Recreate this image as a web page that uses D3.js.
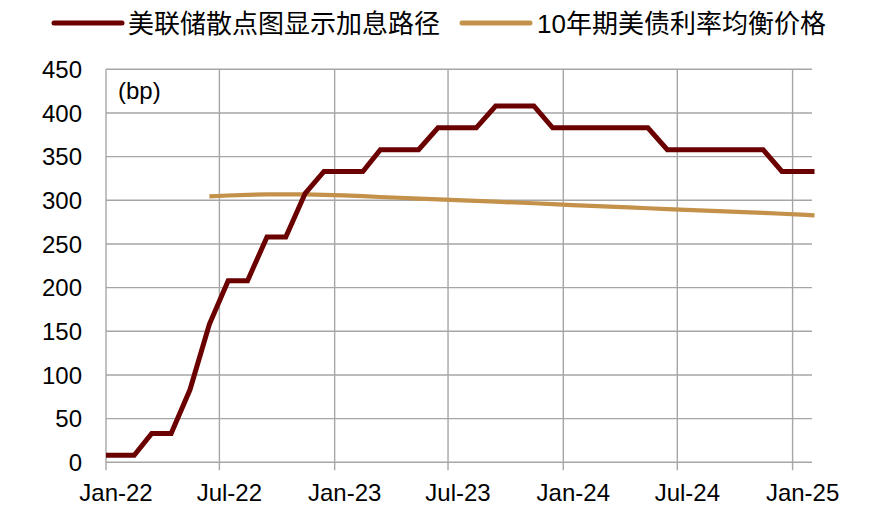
<!DOCTYPE html>
<html>
<head>
<meta charset="utf-8">
<script src="https://cdn.jsdelivr.net/npm/d3@7"></script>
<style>
  body { margin: 0; background: #fff; }
  svg { display: block; }
</style>
</head>
<body>
<svg id="chart" width="893" height="527"></svg>
<script>
// ---- data ----
const seriesNames = ["美联储散点图显示加息路径", "10年期美债利率均衡价格"];
const yTicks = [0, 50, 100, 150, 200, 250, 300, 350, 400, 450];
const xTickLabels = ["Jan-22", "Jul-22", "Jan-23", "Jul-23", "Jan-24", "Jul-24", "Jan-25"];
const unitLabel = "(bp)";

const fedDates = ["2022-01-01","2022-02-15","2022-03-15","2022-04-15","2022-05-15","2022-06-15",
  "2022-07-15","2022-08-15","2022-09-15","2022-10-15","2022-11-15","2022-12-15",
  "2023-01-15","2023-02-15","2023-03-15","2023-04-15","2023-05-15","2023-06-15",
  "2023-07-15","2023-08-15","2023-09-15","2023-10-15","2023-11-15","2023-12-15",
  "2024-01-15","2024-02-15","2024-03-15","2024-04-15","2024-05-15","2024-06-15",
  "2024-07-15","2024-08-15","2024-09-15","2024-10-15","2024-11-15","2024-12-15",
  "2025-01-15","2025-02-05"];
const fedValues = [8, 8, 33, 33, 83, 158,
  208, 208, 258, 258, 308, 333,
  333, 333, 358, 358, 358, 383,
  383, 383, 408, 408, 408, 383,
  383, 383, 383, 383, 383, 358,
  358, 358, 358, 358, 358, 333,
  333, 333];

const ustDates = ["2022-06-15","2022-07-15","2022-08-15","2022-09-15","2022-10-15","2022-11-15","2022-12-15",
  "2023-01-15","2023-02-15","2023-03-15","2023-04-15","2023-05-15","2023-06-15",
  "2023-07-15","2023-08-15","2023-09-15","2023-10-15","2023-11-15","2023-12-15",
  "2024-01-15","2024-02-15","2024-03-15","2024-04-15","2024-05-15","2024-06-15",
  "2024-07-15","2024-08-15","2024-09-15","2024-10-15","2024-11-15","2024-12-15",
  "2025-01-15","2025-02-05"];
const ustValues = [304.5, 305.5, 306.3, 306.7, 306.8, 306.7, 306.3,
  305.6, 304.7, 303.8, 302.9, 302.0, 301.1,
  300.2, 299.3, 298.4, 297.5, 296.6, 295.7,
  294.5, 293.6, 292.7, 291.8, 290.9, 290.0,
  289.1, 288.2, 287.3, 286.4, 285.5, 284.6,
  283.6, 282.8];

// ---- layout ----
const parse = d3.timeParse("%Y-%m-%d");
const svg = d3.select("#chart");
const X0 = 106, X1 = 812, Y0 = 462.3, Y1 = 69.3;
const gridColor = "#a6a6a6";
const red = "#6b0000", gold = "#c3914a";
const tickFont = "'Liberation Sans', Arial, sans-serif";

const x = d3.scaleTime()
  .domain([parse("2022-01-01"), parse("2025-02-01")])
  .range([X0, X1]);
const y = d3.scaleLinear().domain([0, 450]).range([Y0, Y1]);

const xTickDates = d3.timeMonth.every(6).range(parse("2022-01-01"), parse("2025-01-02"));

// horizontal grid
svg.append("g").selectAll("line").data(yTicks).join("line")
  .attr("x1", X0).attr("x2", X1)
  .attr("y1", d => y(d)).attr("y2", d => y(d))
  .attr("stroke", gridColor).attr("stroke-width", 1.4);

// vertical grid + ticks
svg.append("g").selectAll("line").data(xTickDates).join("line")
  .attr("x1", d => x(d)).attr("x2", d => x(d))
  .attr("y1", Y1).attr("y2", Y0 + 8)
  .attr("stroke", gridColor).attr("stroke-width", 1.4);

// y labels
svg.append("g").selectAll("text").data(yTicks).join("text")
  .attr("x", 82).attr("y", d => y(d)).attr("dy", "0.36em")
  .attr("text-anchor", "end")
  .attr("font-family", tickFont).attr("font-size", 24).attr("fill", "#000")
  .text(d => d);

// x labels
svg.append("g").selectAll("text").data(xTickDates).join("text")
  .attr("x", d => x(d) + 10).attr("y", 501)
  .attr("text-anchor", "middle")
  .attr("font-family", tickFont).attr("font-size", 24).attr("fill", "#000")
  .text((d, i) => xTickLabels[i]);

// unit label
svg.append("text").attr("x", 118).attr("y", 99)
  .attr("font-family", tickFont).attr("font-size", 24).attr("fill", "#000")
  .text(unitLabel);

// lines
const line = d3.line().x(d => x(d[0])).y(d => y(d[1]));
const fedData = fedDates.map((d, i) => [parse(d), fedValues[i]]);
const ustData = ustDates.map((d, i) => [parse(d), ustValues[i]]);

svg.append("path").datum(ustData).attr("d", line)
  .attr("fill", "none").attr("stroke", gold).attr("stroke-width", 4.2)
  .attr("stroke-linejoin", "round");
svg.append("path").datum(fedData).attr("d", line)
  .attr("fill", "none").attr("stroke", red).attr("stroke-width", 5)
  .attr("stroke-linejoin", "miter");

// legend
const legendFont = "'Liberation Sans', 'Noto Sans CJK SC', sans-serif";
const legend = [
  {name: seriesNames[0], color: red, lx0: 54, lx1: 122, tx: 128},
  {name: seriesNames[1], color: gold, lx0: 462, lx1: 530, tx: 537}
];
const lg = svg.append("g");
lg.selectAll("line").data(legend).join("line")
  .attr("x1", d => d.lx0).attr("x2", d => d.lx1)
  .attr("y1", 23).attr("y2", 23)
  .attr("stroke", d => d.color).attr("stroke-width", 5).attr("stroke-linecap", "round");
lg.selectAll("text").data(legend).join("text")
  .attr("x", d => d.tx).attr("y", 33)
  .attr("font-family", legendFont).attr("font-size", 26).attr("fill", "#000")
  .text(d => d.name);
</script>
</body>
</html>
